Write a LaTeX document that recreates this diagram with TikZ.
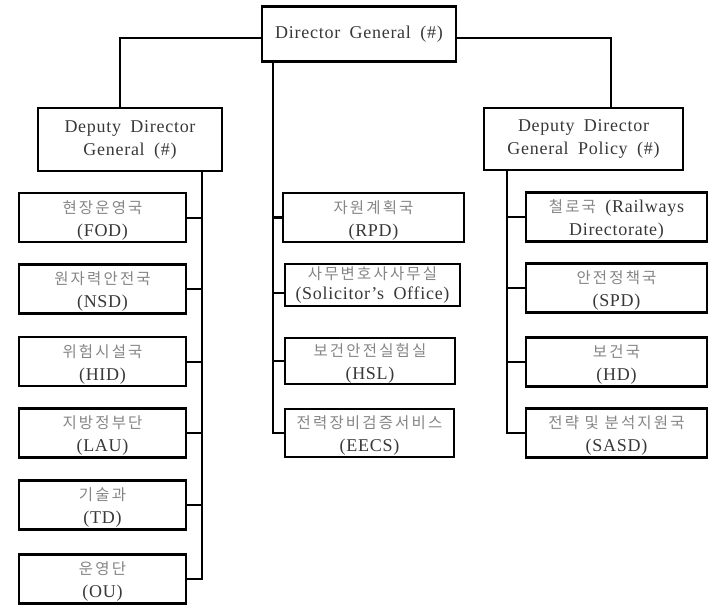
\documentclass[tikz,border=0pt]{standalone}
\usepackage{fontspec}
\setmainfont{Liberation Serif}[WordSpace=1.8, LetterSpace=4]
\newfontfamily\krfont{Noto Sans CJK KR}[LetterSpace=14]
\definecolor{latxt}{HTML}{383838}
\definecolor{krtxt}{HTML}{858585}
\newcommand\hangul[1]{{\krfont\fontsize{15.5}{24}\selectfont\color{krtxt}#1}}
\newcommand\hanglead{\rule{0pt}{18pt}}
\begin{document}
\begin{tikzpicture}[x=1pt, y=-1pt,
  box/.style={draw=black, line width=2.9pt, inner sep=0pt, align=center,
    font=\fontsize{18}{23}\selectfont, text=latxt},
  lightbox/.style={box, line width=1.4pt},
  leftbox/.style={box, minimum width=167pt, minimum height=49pt},
  rightbox/.style={box, minimum width=181pt, minimum height=49pt},
  thinline/.style={draw=black, line width=1.3pt},
  thickline/.style={draw=black, line width=2.7pt},
  stubline/.style={draw=black, line width=2pt}]
\useasboundingbox (0,0) rectangle (715,605);

% top level
\node[box, minimum width=194pt, minimum height=55pt] (dg) at (359,34) {Director General (\#)};
\node[box, minimum width=184pt, minimum height=63pt] (ddg) at (130,139.5) {Deputy Director\\General (\#)};
\node[box, minimum width=199pt, minimum height=62pt] (ddgp) at (583.5,139) {Deputy Director\\General Policy (\#)};

% left column
\node[leftbox] (fod) at (102.5,217.5) {\hanglead\hangul{현장운영국}\\(FOD)};
\node[leftbox] (nsd) at (102.5,289) {\hanglead\hangul{원자력안전국}\\(NSD)};
\node[leftbox] (hid) at (102.5,361.5) {\hanglead\hangul{위험시설국}\\(HID)};
\node[leftbox] (lau) at (102.5,433) {\hanglead\hangul{지방정부단}\\(LAU)};
\node[leftbox] (td) at (102.5,505) {\hanglead\hangul{기술과}\\(TD)};
\node[leftbox] (ou) at (102.5,579) {\hanglead\hangul{운영단}\\(OU)};

% middle column
\node[box, minimum width=181pt, minimum height=49pt] (rpd) at (373.5,217.5) {\hanglead\hangul{자원계획국}\\(RPD)};
\node[lightbox, line width=1.8pt, minimum width=175pt, minimum height=42pt,
  font=\fontsize{18}{20}\selectfont] (so) at (372.5,285) {\hangul{사무변호사사무실}\\(Solicitor's Office)};
\node[lightbox, minimum width=170pt, minimum height=46pt] (hsl) at (370,361) {\hanglead\hangul{보건안전실험실}\\(HSL)};
\node[lightbox, minimum width=169pt, minimum height=48pt] (eecs) at (369.5,433) {\hanglead\hangul{전력장비검증서비스}\\(EECS)};

% right column
\node[rightbox] (rd) at (616.5,217) {\hanglead\hangul{철로국} (Railways\\Directorate)};
\node[rightbox] (spd) at (616.5,288) {\hanglead\hangul{안전정책국}\\(SPD)};
\node[rightbox] (hd) at (616.5,362) {\hanglead\hangul{보건국}\\(HD)};
\node[rightbox] (sasd) at (616.5,433) {\hanglead\hangul{전략 및 분석지원국}\\(SASD)};

% director general to deputies
\draw[thinline] ([yshift=-4pt]dg.west) -| ([xshift=-10pt]ddg.north);
\draw[thinline] ([yshift=-4pt]dg.east) -| ([xshift=27.5pt]ddgp.north);

% middle trunk
\coordinate (mtop) at ([xshift=-86pt]dg.south);
\coordinate (sostub) at ([yshift=-8pt]so.west);
\draw[thinline] (mtop) |- (eecs.west);
\draw[thickline] (rpd.west -| mtop) -- (rpd.west);
\draw[thickline] (sostub -| mtop) -- (sostub);
\draw[thinline] (hsl.west -| mtop) -- (hsl.west);

% left trunk
\coordinate (ltop) at ([xshift=72pt]ddg.south);
\draw[thickline] (ltop) |- (ou.east);
\foreach \n in {fod,nsd,hid,lau,td}
  \draw[stubline] (\n.east) -- (\n.east -| ltop);

% right trunk
\coordinate (rtop) at ([xshift=-76.5pt]ddgp.south);
\draw[thickline] (rtop) |- (sasd.west);
\foreach \n in {rd,spd,hd}
  \draw[thickline] (\n.west -| rtop) -- (\n.west);
\end{tikzpicture}
\end{document}
